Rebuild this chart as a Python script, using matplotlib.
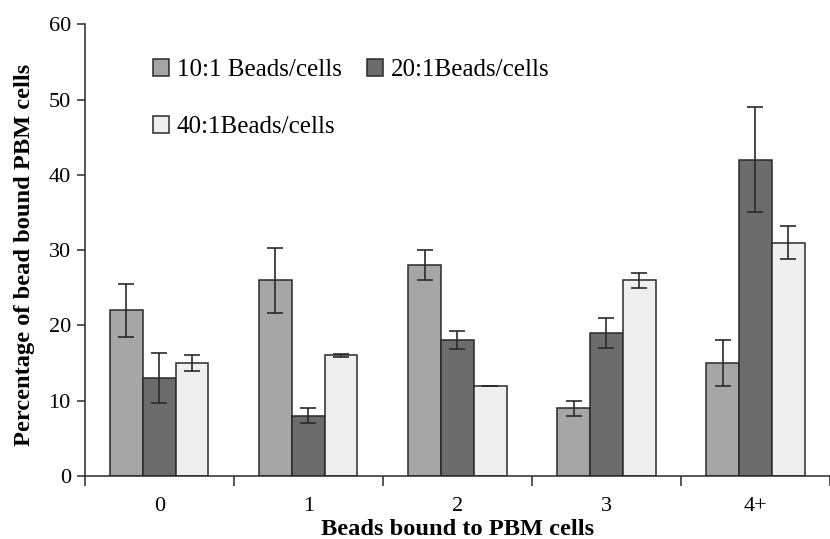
import matplotlib
matplotlib.use("Agg")
import matplotlib.pyplot as plt
import numpy as np

categories = ["0", "1", "2", "3", "4+"]
series_names = ["10:1 Beads/cells", "20:1Beads/cells", "40:1Beads/cells"]
vals_10 = [22, 26, 28, 9, 15]
err_10 = [3.5, 4.3, 2.0, 1.0, 3.0]
vals_20 = [13, 8, 18, 19, 42]
err_20 = [3.3, 1.0, 1.2, 2.0, 7.0]
vals_40 = [15, 16, 12, 26, 31]
err_40 = [1.0, 0.2, 0.0, 1.0, 2.2]
colors = ["#a6a6a6", "#6c6c6c", "#efefef"]

plt.rcParams['font.family'] = ['Liberation Serif', 'DejaVu Serif']

fig = plt.figure(figsize=(8.30, 5.39), dpi=100)
ax = fig.add_axes([0.102, 0.117, 0.898, 0.838])

x = np.arange(len(categories))
w = 0.22
handles = []
for i, (v, e, c, name) in enumerate(zip([vals_10, vals_20, vals_40],
                                        [err_10, err_20, err_40], colors, series_names)):
    b = ax.bar(x + (i - 1) * w, v, w, color=c, edgecolor="#2a2a2a", linewidth=1.1,
               label=name, zorder=2)
    ax.errorbar(x + (i - 1) * w, v, yerr=e, fmt="none", ecolor="#2a2a2a",
                elinewidth=1.2, capsize=5.5, capthick=1.2, zorder=3)
    handles.append(b)

ax.set_xlim(-0.5, 4.44)
ax.set_ylim(0, 60)
ax.set_yticks(np.arange(0, 61, 10))
ax.set_xticks(x)
ax.set_xticklabels(categories)
ax.set_xticks(np.arange(-0.5, 4.6, 1.0), minor=True)
ax.tick_params(axis="x", which="major", length=0, pad=15, labelsize=16)
ax.tick_params(axis="x", which="minor", length=7, width=1.1, direction="out", color="#2a2a2a")
ax.tick_params(axis="y", length=6, width=1.1, direction="out", labelsize=16, pad=4, color="#2a2a2a")
for s in ["top", "right"]:
    ax.spines[s].set_visible(False)
for s in ["left", "bottom"]:
    ax.spines[s].set_linewidth(1.1)
    ax.spines[s].set_color("#2a2a2a")

ax.set_ylabel("Percentage of bead bound PBM cells", fontsize=17.6, fontweight="bold", labelpad=2)
ax.set_xlabel("Beads bound to PBM cells", fontsize=17.6, fontweight="bold", labelpad=2)
ax.yaxis.set_label_coords(-0.066, 0.49)

leg = ax.legend([handles[0], handles[2], handles[1]],
                [series_names[0], series_names[2], series_names[1]],
                ncol=2, frameon=False, loc="upper left",
                bbox_to_anchor=(153 / 830, 1 - 59 / 539), bbox_transform=fig.transFigure,
                borderpad=0, borderaxespad=0,
                fontsize=18, handlelength=0.65, handleheight=0.65, handletextpad=0.3,
                labelspacing=1.4, columnspacing=1.0)

fig.savefig("out.png", dpi=100)
